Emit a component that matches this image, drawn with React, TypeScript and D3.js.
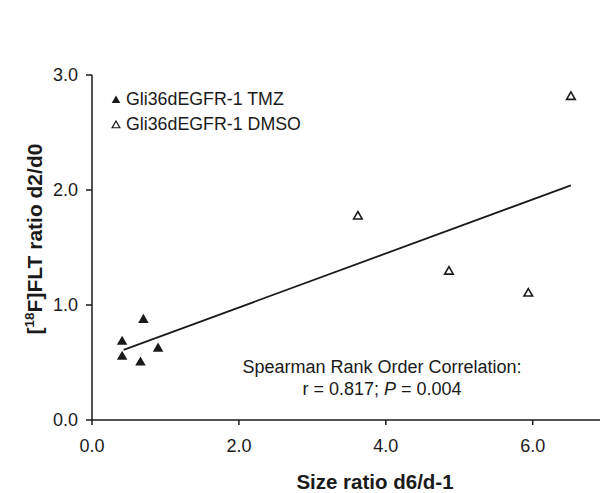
import React from "react";
import * as d3 from "d3";

const tmzX = [0.41, 0.70, 0.41, 0.66, 0.90];
const tmzY = [0.68, 0.87, 0.55, 0.50, 0.62];
const dmsoX = [3.62, 4.86, 5.94, 6.52];
const dmsoY = [1.77, 1.29, 1.10, 2.81];
const fitX = [0.43, 6.52];
const fitY = [0.61, 2.04];
const xTicks = [0, 2, 4, 6];
const yTicks = [0, 1, 2, 3];
const legendLabels = ["Gli36dEGFR-1 TMZ", "Gli36dEGFR-1 DMSO"];

export default function App() {
  const W = 601, H = 493;
  const x = d3.scaleLinear().domain([0, 7.1]).range([92, 92 + 7.1 * 73.45]);
  const y = d3.scaleLinear().domain([0, 3]).range([420, 75]);
  const font = "Arial, 'Liberation Sans', Helvetica, sans-serif";
  const col = "#1a1a1a";
  const tri = d3.symbol().type(d3.symbolTriangle);
  const filled = tri.size(48)() as string;
  const open = tri.size(32)() as string;
  const line = d3.line<number>().x((_, i) => x(fitX[i])).y((v) => y(v));
  return (
    <svg width={W} height={H} style={{ position: "absolute", left: 0, top: 0, background: "#fff" }}>
      <rect width={W} height={H} fill="#fff" />
      {/* axes */}
      <line x1={x(0)} x2={x(0)} y1={y(3)} y2={y(0)} stroke={col} strokeWidth={1.5} />
      <line x1={x(0)} x2={600} y1={y(0)} y2={y(0)} stroke={col} strokeWidth={1.5} />
      {yTicks.map((t) => (
        <g key={"y" + t}>
          <line x1={x(0) - 6} x2={x(0)} y1={y(t)} y2={y(t)} stroke={col} strokeWidth={1.5} />
          <text x={x(0) - 14} y={y(t)} dy="0.36em" textAnchor="end" fontFamily={font} fontSize={18} fill={col}>
            {t.toFixed(1)}
          </text>
        </g>
      ))}
      {xTicks.map((t) => (
        <g key={"x" + t}>
          <line x1={x(t)} x2={x(t)} y1={y(0)} y2={y(0) + 5} stroke={col} strokeWidth={1.5} />
          <text x={x(t)} y={452} textAnchor="middle" fontFamily={font} fontSize={18} fill={col}>
            {t.toFixed(1)}
          </text>
        </g>
      ))}
      {/* axis titles */}
      <text x={375} y={489} textAnchor="middle" fontFamily={font} fontSize={20.5} fontWeight="bold" fill={col}>
        Size ratio d6/d-1
      </text>
      <text transform="translate(41.5,239) rotate(-90)" textAnchor="middle" fontFamily={font} fontSize={21} fontWeight="bold" fill={col}>
        [<tspan dy={-8} fontSize={13.5}>18</tspan><tspan dy={8}>F]FLT ratio d2/d0</tspan>
      </text>
      {/* fit line */}
      <path d={line(fitY) || ""} fill="none" stroke={col} strokeWidth={1.8} />
      {/* points */}
      {tmzX.map((v, i) => (
        <path key={"t" + i} d={filled} transform={`translate(${x(v)},${y(tmzY[i])})`} fill={col} />
      ))}
      {dmsoX.map((v, i) => (
        <path key={"d" + i} d={open} transform={`translate(${x(v)},${y(dmsoY[i])})`} fill="none" stroke={col} strokeWidth={1.6} />
      ))}
      {/* legend */}
      <path d={tri.size(32)() as string} transform="translate(116,100.5)" fill={col} />
      <text x={126} y={105} fontFamily={font} fontSize={17.8} fill={col}>{legendLabels[0]}</text>
      <path d={tri.size(26)() as string} transform="translate(116,125.5)" fill="none" stroke={col} strokeWidth={1.2} />
      <text x={126} y={130} fontFamily={font} fontSize={17.8} fill={col}>{legendLabels[1]}</text>
      {/* stats */}
      <text x={382} y={373} textAnchor="middle" fontFamily={font} fontSize={18} fill={col}>
        Spearman Rank Order Correlation:
      </text>
      <text x={382} y={395} textAnchor="middle" fontFamily={font} fontSize={18} fill={col}>
        r = 0.817; <tspan fontStyle="italic">P</tspan> = 0.004
      </text>
    </svg>
  );
}
